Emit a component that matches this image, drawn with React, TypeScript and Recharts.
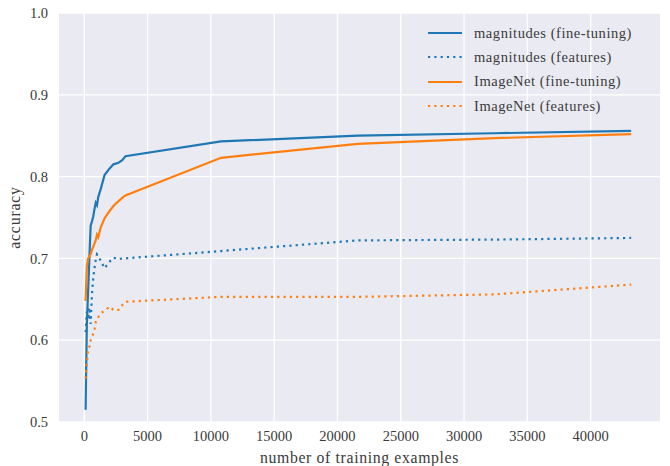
import React from 'react';
import { LineChart, Line, XAxis, YAxis, CartesianGrid, Legend } from 'recharts';

const xValues = [100, 200, 300, 400, 500, 600, 700, 800, 900, 1000, 1100, 1300, 1600, 2000, 2300, 2700, 3000, 3250, 10800, 21600, 32400, 43200];
const magFineTuning = [0.515, 0.62, 0.66, 0.7, 0.74, 0.745, 0.751, 0.76, 0.768, 0.765, 0.775, 0.785, 0.802, 0.81, 0.815, 0.817, 0.82, 0.825, 0.843, 0.85, 0.853, 0.856];
const magFeatures = [0.61, 0.635, 0.625, 0.64, 0.62, 0.655, 0.675, 0.688, 0.698, 0.705, 0.703, 0.697, 0.688, 0.696, 0.701, 0.699, 0.7, 0.7, 0.709, 0.722, 0.723, 0.725];
const imagenetFineTuning = [0.648, 0.69, 0.7, 0.702, 0.705, 0.71, 0.714, 0.718, 0.722, 0.729, 0.726, 0.738, 0.749, 0.758, 0.764, 0.77, 0.774, 0.777, 0.823, 0.84, 0.847, 0.852];
const imagenetFeatures = [0.553, 0.572, 0.59, 0.592, 0.6, 0.603, 0.608, 0.612, 0.622, 0.625, 0.628, 0.633, 0.636, 0.641, 0.637, 0.637, 0.643, 0.647, 0.653, 0.653, 0.656, 0.668];

const xTicks = [0, 5000, 10000, 15000, 20000, 25000, 30000, 35000, 40000];
const yTicks = [0.5, 0.6, 0.7, 0.8, 0.9, 1.0];

const seriesNames = ['magnitudes (fine-tuning)', 'magnitudes (features)', 'ImageNet (fine-tuning)', 'ImageNet (features)'];
const seriesKeys = ['magFine', 'magFeat', 'imgFine', 'imgFeat'];
const seriesColors = ['#1f77b4', '#1f77b4', '#ff7f0e', '#ff7f0e'];
const seriesDotted = [false, true, false, true];

const data = xValues.map((x, i) => ({
  x,
  magFine: magFineTuning[i],
  magFeat: magFeatures[i],
  imgFine: imagenetFineTuning[i],
  imgFeat: imagenetFeatures[i],
}));

const FONT = "'Liberation Serif', serif";
const FS = 14.5;
const LFS = 15.8;
const TEXT = '#3a3a3a';
const DASH = '2.2 4.1';

const css = `.cm-root, .cm-root text, .cm-root tspan, .cm-root div, .cm-root span { font-family: 'Liberation Serif', serif !important; }`;

const LegendContent = () => (
  <div style={{ fontFamily: FONT, fontSize: FS, color: TEXT, letterSpacing: 0.56 }}>
    {seriesNames.map((name, i) => (
      <div key={name} style={{ display: 'flex', alignItems: 'center', height: 24.3, whiteSpace: 'nowrap' }}>
        <svg width={34} height={4} style={{ marginRight: 12, display: 'block' }}>
          <line
            x1={0}
            y1={2}
            x2={34}
            y2={2}
            stroke={seriesColors[i]}
            strokeWidth={2.2}
            strokeDasharray={seriesDotted[i] ? DASH : undefined}
          />
        </svg>
        <span>{name}</span>
      </div>
    ))}
  </div>
);

export default function App() {
  return (
    <div className="cm-root" style={{ position: 'absolute', left: 0, top: 0, width: 670, height: 466, background: '#fff', fontFamily: FONT }}>
      <style>{css}</style>
      <LineChart width={670} height={466} data={data} margin={{ top: 13, right: 10, bottom: 0, left: 0 }}>
        <CartesianGrid fill="#EAEAF2" stroke="#ffffff" strokeWidth={1.3} horizontalValues={yTicks} verticalValues={xTicks} />
        <XAxis
          dataKey="x"
          type="number"
          domain={[-2000, 45480]}
          ticks={xTicks}
          allowDataOverflow
          axisLine={false}
          tickLine={false}
          tickSize={0}
          tickMargin={9}
          height={44}
          tick={{ fontSize: FS, fill: TEXT }}
          label={{ value: 'number of training examples', position: 'insideBottom', offset: 3, style: { fontSize: LFS, fill: TEXT, letterSpacing: 0.63 } }}
        />
        <YAxis
          type="number"
          domain={[0.5, 1.0]}
          ticks={yTicks}
          allowDataOverflow
          axisLine={false}
          tickLine={false}
          tickSize={0}
          tickMargin={11}
          width={59}
          tickFormatter={(v: number) => v.toFixed(1)}
          tick={{ fontSize: FS, fill: TEXT }}
          label={{ value: 'accuracy', angle: -90, position: 'insideLeft', offset: 14, style: { textAnchor: 'middle', fontSize: LFS, fill: TEXT, letterSpacing: 0.8 } }}
        />
        {seriesKeys.map((k, i) => (
          <Line
            key={k}
            type="linear"
            dataKey={k}
            name={seriesNames[i]}
            stroke={seriesColors[i]}
            strokeWidth={2.2}
            strokeDasharray={seriesDotted[i] ? DASH : undefined}
            dot={false}
            activeDot={false}
            isAnimationActive={false}
          />
        ))}
        <Legend
          layout="vertical"
          align="center"
          verticalAlign="middle"
          content={<LegendContent />}
          wrapperStyle={{ top: 21, left: 428, width: 240, height: 100 }}
        />
      </LineChart>
    </div>
  );
}
